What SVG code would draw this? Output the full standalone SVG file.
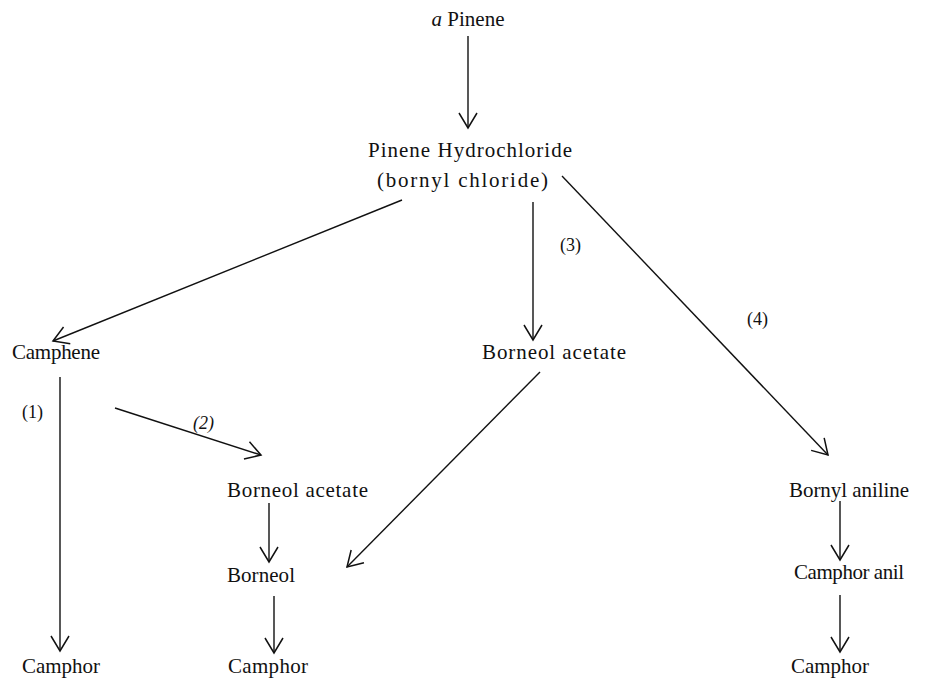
<svg xmlns="http://www.w3.org/2000/svg" width="932" height="678" viewBox="0 0 932 678">
<defs>
<style>
text{font-family:"Liberation Serif","Times New Roman",serif;font-size:21px;fill:#111}
.n{font-size:18px}
.c line{stroke:#111;stroke-width:1.4;fill:none;marker-end:url(#ah)}
</style>
<marker id="ah" viewBox="-16 -10 18 20" refX="0" refY="0" markerWidth="18" markerHeight="20" markerUnits="userSpaceOnUse" orient="auto">
<path d="M-15,-9 L0,0 L-15,9" fill="none" stroke="#111" stroke-width="1.5"/>
</marker>
</defs>
<rect width="932" height="678" fill="#fff"/>
<g class="c" id="connectors">
<line x1="468" y1="36" x2="468" y2="128"/>
<line x1="402" y1="200" x2="53" y2="341"/>
<line x1="533" y1="202" x2="533" y2="340"/>
<line x1="562" y1="176" x2="828" y2="455"/>
<line x1="60" y1="377" x2="60" y2="651"/>
<line x1="115" y1="408" x2="261" y2="455"/>
<line x1="540" y1="372" x2="347" y2="567"/>
<line x1="269" y1="503" x2="269" y2="562"/>
<line x1="274" y1="596" x2="274" y2="653"/>
<line x1="840" y1="501" x2="840" y2="560"/>
<line x1="840" y1="595" x2="840" y2="652"/>
</g>
<g id="labels">
<text class="n" x="22" y="418">(1)</text>
<text class="n" x="193" y="429" font-style="italic">(2)</text>
<text class="n" x="560" y="251">(3)</text>
<text class="n" x="747" y="325">(4)</text>
</g>
<g id="n-pinene"><text x="468" y="26" text-anchor="middle"><tspan font-style="italic">a</tspan> Pinene</text></g>
<g id="n-hydrochloride">
<text x="368" y="157" textLength="204" lengthAdjust="spacing">Pinene Hydrochloride</text>
<text x="377" y="187" textLength="171" lengthAdjust="spacing">(bornyl chloride)</text>
</g>
<g id="n-camphene"><text x="12" y="359" textLength="88" lengthAdjust="spacing">Camphene</text></g>
<g id="n-borneol-acetate-3"><text x="482" y="359" textLength="144" lengthAdjust="spacing">Borneol acetate</text></g>
<g id="n-borneol-acetate-2"><text x="227" y="497" textLength="141" lengthAdjust="spacing">Borneol acetate</text></g>
<g id="n-borneol"><text x="227" y="582" textLength="68" lengthAdjust="spacing">Borneol</text></g>
<g id="n-bornyl-aniline"><text x="789" y="497" textLength="120" lengthAdjust="spacing">Bornyl aniline</text></g>
<g id="n-camphor-anil"><text x="794" y="579" textLength="110" lengthAdjust="spacing">Camphor anil</text></g>
<g id="n-camphor-1"><text x="22" y="673" textLength="78" lengthAdjust="spacing">Camphor</text></g>
<g id="n-camphor-2"><text x="228" y="673" textLength="80" lengthAdjust="spacing">Camphor</text></g>
<g id="n-camphor-4"><text x="791" y="673" textLength="78" lengthAdjust="spacing">Camphor</text></g>
</svg>
